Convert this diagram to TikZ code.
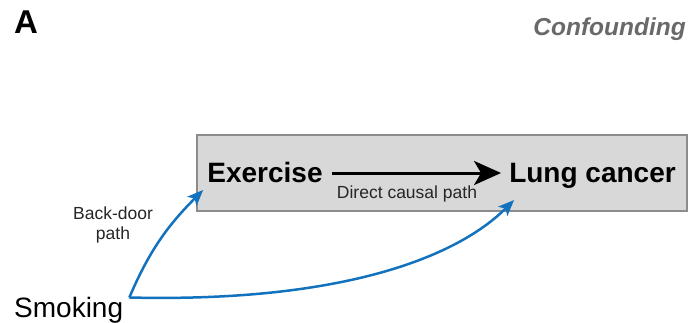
\documentclass[tikz,border=0pt]{standalone}
\usepackage{fontspec}
\setmainfont{Liberation Sans}
\usetikzlibrary{arrows.meta}
\definecolor{boxfill}{RGB}{216,216,216}
\definecolor{boxline}{RGB}{140,140,140}
\definecolor{pathblue}{RGB}{18,114,190}
\definecolor{tagray}{RGB}{105,105,105}
\tikzset{
  bigword/.style={font=\fontsize{28}{34}\selectfont, inner sep=0pt},
  smallword/.style={font=\fontsize{17.5}{20}\selectfont, inner sep=0pt, text=black!85},
  causal/.style={line width=3pt, -{Stealth[length=27pt,width=24pt,inset=7pt]}},
  backdoor/.style={pathblue, line width=2.5pt, -{Stealth[length=16pt,width=13pt,inset=4pt]}},
}
\begin{document}
\begin{tikzpicture}[x=1pt,y=-1pt]
\useasboundingbox (0,0) rectangle (690,322);
% panel letter and title
\node[font=\fontsize{33}{38}\selectfont\bfseries, inner sep=0pt, anchor=base west] (panel) at (14,33) {A};
\node[font=\fontsize{24.5}{28}\selectfont\bfseries\itshape, text=tagray, inner sep=0pt, anchor=base east] (title) at (686,35) {Confounding};
% shaded box around the causal pair
\node[draw=boxline, fill=boxfill, line width=1.5pt, minimum width=490pt, minimum height=76pt, inner sep=0pt] (box) at (442,173) {};
% variables
\node[bigword, font=\fontsize{28}{34}\selectfont\bfseries, anchor=base] (exe) at (265,182) {Exercise};
\node[bigword, font=\fontsize{28}{34}\selectfont\bfseries, anchor=base] (lung) at (592.5,182) {Lung cancer};
\node[bigword, anchor=base west] (smoke) at (14,317) {Smoking};
% edge labels
\node[smallword] (direct) at (407,194) {Direct causal path};
\node[smallword, align=center] (bdlabel) at (113,225) {Back-door\\path};
% connectors
\coordinate (fork) at ([xshift=6pt,yshift=-1pt]smoke.north east);
\coordinate (exetip) at ([xshift=-4pt,yshift=-8pt]exe.base west);
\coordinate (lungtip) at ([xshift=5pt,yshift=-18pt]lung.base west);
\draw[causal] ([xshift=9pt,yshift=9pt]exe.base east) -- ([xshift=-8pt,yshift=9pt]lung.base west);
\draw[backdoor] (fork) .. controls +(20,-47) and +(-35,35) .. (exetip);
\draw[backdoor] (fork) .. controls +(211,5) and +(-58,58) .. (lungtip);
\end{tikzpicture}
\end{document}
